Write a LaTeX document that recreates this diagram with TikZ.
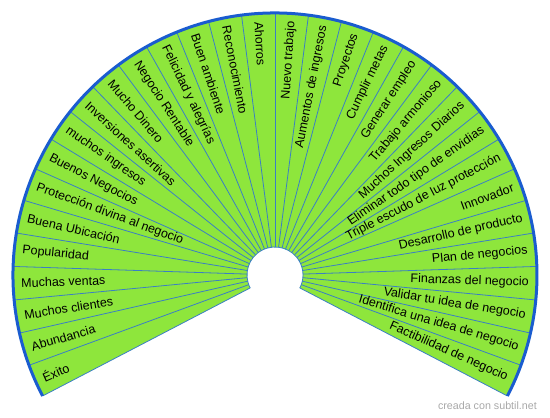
\documentclass[tikz,border=0pt]{standalone}
\usepackage{fontspec}
\setmainfont{Liberation Sans}
\usepackage{tikz}
\usetikzlibrary{calc}
\definecolor{FanGreen}{HTML}{8EE63C}
\definecolor{RimBlue}{HTML}{1A5CCF}
\definecolor{RayBlue}{HTML}{3A7FC4}
\definecolor{MarkGray}{HTML}{A8A8A8}

\begin{document}
\begin{tikzpicture}[
    x=1pt,y=1pt,
    ray/.style={draw=RayBlue,line width=0.8pt},
    rim/.style={draw=RimBlue,line width=3pt},
    lbl/.style={font=\fontsize{12.5}{14}\selectfont,inner sep=0pt,text=black},
    credit/.style={font=\fontsize{10.7}{12}\selectfont,text=MarkGray,inner sep=0pt}
  ]
    \useasboundingbox (0,0) rectangle (550,418);
    \coordinate (hub) at (275,143);

    % fan body
    \fill[FanGreen] ($(hub)+(207.5:28)$) arc[start angle=207.5,end angle=-27.5,radius=28]
      -- ($(hub)+(-27.5:262)$) arc[start angle=-27.5,end angle=207.5,radius=262] -- cycle;

    % rays between the wedges
    \foreach \k in {0,...,32}{
      \pgfmathsetmacro\ang{207.5-\k*235/32}
      \draw[ray] ($(hub)+(\ang:28)$) -- ($(hub)+(\ang:262)$);
    }
    \draw[ray] ($(hub)+(207.5:28)$) arc[start angle=207.5,end angle=-27.5,radius=28];
    \draw[rim] ($(hub)+(207.5:262)$) arc[start angle=207.5,end angle=-27.5,radius=262];

    % labels, left half read inwards, right half read outwards
    \foreach \txt [count=\i] in {Éxito,Abundancia,Muchos clientes,Muchas ventas,Popularidad,
        Buena Ubicación,Protección divina al negocio,Buenos Negocios,muchos ingresos,
        Inversiones asertivas,Mucho Dinero,Negocio Rentable,Felicidad y alegrías,
        Buen ambiente,Reconocimiento,Ahorros,Nuevo trabajo,Aumentos de ingresos,Proyectos,
        Cumplir metas,Generar empleo,Trabajo armonioso,Muchos Ingresos Diarios,
        Eliminar todo tipo de envidias,Triple escudo de luz protección,Innovador,
        Desarrollo de producto,Plan de negocios,Finanzas del negocio,
        Validar tu idea de negocio,Identifica una idea de negocio,Factibilidad de negocio}{
      \pgfmathsetmacro\ang{207.5-(\i-0.5)*235/32}
      \ifnum\i<17
        \node[lbl,anchor=west,rotate=\ang-180] (lab\i) at ($(hub)+(\ang:254)$) {\txt};
      \else
        \node[lbl,anchor=east,rotate=\ang] (lab\i) at ($(hub)+(\ang:254)$) {\txt};
      \fi
    }

    \node[credit,anchor=east] (mark) at (537,12) {creada con subtil.net};
  \end{tikzpicture}
\end{document}
